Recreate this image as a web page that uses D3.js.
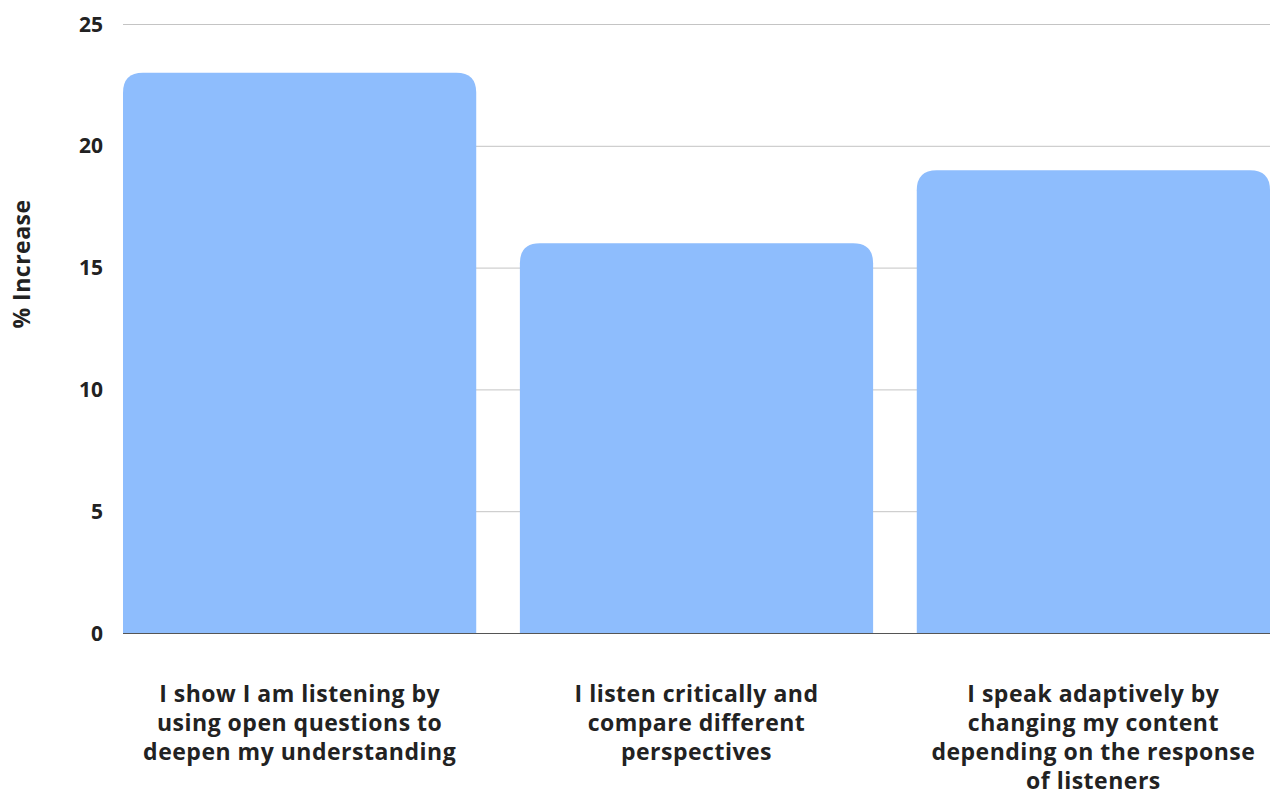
<!DOCTYPE html>
<html lang="en">
    <head>
        <meta charset="utf-8">
        <title>% Increase bar chart</title>
        <script type="text/javascript" src="https://d3js.org/d3.v7.min.js"></script>
        <style type="text/css">
          body { margin: 0; background: #fff; }
          text { font-family: "Open Sans", Lato, sans-serif; font-weight: 700; fill: #222; }
        </style>
    </head>
    <body>
        <svg width="1273" height="796"></svg>
        <script type="text/javascript">

            const svg = d3.select("svg");

            // data
            const categories = [
              "I show I am listening by\nusing open questions to\ndeepen my understanding",
              "I listen critically and\ncompare different\nperspectives",
              "I speak adaptively by\nchanging my content\ndepending on the response\nof listeners"
            ];
            const values = [23, 16, 19];
            const yTicks = [0, 5, 10, 15, 20, 25];
            const yTitle = "% Increase";

            // layout
            const plotLeft = 123, plotRight = 1270, plotTop = 24, plotBottom = 633;

            const x = d3.scaleBand()
                        .domain(categories)
                        .range([plotLeft, plotRight])
                        .paddingInner(0.11)
                        .paddingOuter(0);

            const y = d3.scaleLinear()
                        .domain([0, 25])
                        .range([plotBottom, plotTop]);

            // grid lines
            svg.append("g")
               .selectAll("line")
               .data(yTicks.filter(d => d > 0))
               .join("line")
               .attr("x1", plotLeft)
               .attr("x2", plotRight)
               .attr("y1", d => y(d) + 0.5)
               .attr("y2", d => y(d) + 0.5)
               .style("stroke", "#c4c4c4")
               .style("stroke-width", 1);

            // tick labels
            svg.append("g")
               .selectAll("text")
               .data(yTicks)
               .join("text")
               .attr("x", 103)
               .attr("y", d => y(d))
               .attr("dy", "0.36em")
               .attr("text-anchor", "end")
               .style("font-size", "21px")
               .text(d => d);

            // bars with rounded top corners
            const r = 20;
            function barPath(d, i) {
              const x0 = x(categories[i]), w = x.bandwidth();
              const y0 = y(d), y1 = y(0);
              return `M${x0},${y1}V${y0 + r}Q${x0},${y0} ${x0 + r},${y0}` +
                     `H${x0 + w - r}Q${x0 + w},${y0} ${x0 + w},${y0 + r}V${y1}Z`;
            }

            svg.append("g")
               .selectAll("path")
               .data(values)
               .join("path")
               .attr("d", barPath)
               .style("fill", "#8ebdfd");

            // baseline
            svg.append("line")
               .attr("x1", plotLeft)
               .attr("x2", plotRight)
               .attr("y1", y(0) + 0.5)
               .attr("y2", y(0) + 0.5)
               .style("stroke", "#555")
               .style("stroke-width", 1.2);

            // category labels
            const labels = svg.append("g")
               .selectAll("text")
               .data(categories)
               .join("text")
               .attr("text-anchor", "middle")
               .style("font-size", "23px")
               .style("letter-spacing", "0.5px")
               .attr("transform", d => `translate(${x(d) + x.bandwidth() / 2},702)`);

            labels.selectAll("tspan")
                  .data(d => d.split("\n"))
                  .join("tspan")
                  .attr("x", 0)
                  .attr("y", (d, i) => i * 29)
                  .text(d => d);

            // y axis title
            svg.append("text")
               .attr("transform", "translate(30,264) rotate(-90)")
               .attr("text-anchor", "middle")
               .style("font-size", "23px")
               .style("letter-spacing", "0.5px")
               .text(yTitle);

        </script>
    </body>
</html>
